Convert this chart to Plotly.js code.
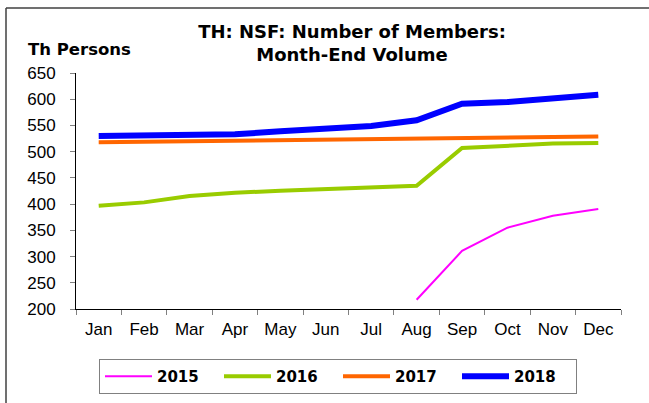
<!DOCTYPE html>
<html><head><meta charset="utf-8">
<script src="https://cdn.plot.ly/plotly-3.0.1.min.js"></script>
<style>html,body{margin:0;padding:0;background:#fff}</style>
</head><body><div id="chart" style="width:649px;height:403px"></div>
<script>
const months = ['Jan','Feb','Mar','Apr','May','Jun','Jul','Aug','Sep','Oct','Nov','Dec'];
const yearNames = ['2015','2016','2017','2018'];
const v2015 = [null,null,null,null,null,null,null,217.7,310.8,355.0,377.9,390.6];
const v2016 = [396.9,403.3,415.3,421.6,425.4,428.6,431.9,434.9,507.0,512.0,515.5,516.6];
const v2017 = [518,519,520,521,522,523,524,525,526,527,528,529];
const v2018 = [529.9,531.2,533.7,533.0,538.8,544.0,548.9,559.8,591.5,594.5,602.0,608.6];
const yTicks = [200,250,300,350,400,450,500,550,600,650];

const series = [v2015, v2016, v2017, v2018];
const colors = ['#FF00FF','#99CC00','#FF6600','#0000FF'];
const widths = [2, 4, 4, 6];

const traces = series.map((v,i) => ({
  x: months, y: v, name: yearNames[i], type: 'scatter', mode: 'lines',
  line: {color: colors[i], width: widths[i]}, connectgaps: false
}));

// plot area in px: left 76, top 73, width 545, height 236
const L = 76, T = 73, W = 545, H = 236;
const px = x => (x - L) / W;
const py = y => (T + H - y) / H;

const layout = {
  width: 649, height: 403,
  margin: {l: L, r: 649 - L - W, t: T, b: 403 - T - H, autoexpand: false},
  paper_bgcolor: '#ffffff', plot_bgcolor: '#ffffff',
  font: {family: 'Liberation Sans, Arial, sans-serif', size: 16, color: '#000'},
  showlegend: true,
  title: {
    text: 'TH: NSF: Number of Members:<br>Month-End Volume',
    font: {family: 'DejaVu Sans, sans-serif', size: 18, color: '#000', weight: 'bold'},
    x: px(352), xanchor: 'center', xref: 'paper',
    y: 1 - 38/403, yanchor: 'top', yref: 'container'
  },
  xaxis: {
    type: 'category', categoryorder: 'array', categoryarray: months,
    range: [-0.5, 11.5], showgrid: false, zeroline: false,
    showline: true, linecolor: '#000', linewidth: 1,
    ticks: 'outside', tickson: 'boundaries', ticklen: 5, tickcolor: '#808080', tickwidth: 1,
    tickfont: {family: 'Liberation Sans, Arial, sans-serif', size: 17, color: '#000'}, ticklabelstandoff: 5, fixedrange: true
  },
  yaxis: {
    range: [200, 650], tickvals: yTicks, ticktext: yTicks.map(String),
    showgrid: false, zeroline: false,
    showline: true, linecolor: '#000', linewidth: 1,
    ticks: 'outside', ticklen: 5, tickcolor: '#808080', tickwidth: 1,
    tickfont: {family: 'Liberation Sans, Arial, sans-serif', size: 17, color: '#000'}, ticklabelstandoff: 11, fixedrange: true
  },
  legend: {
    orientation: 'h', x: px(338), xanchor: 'center', y: py(359), yanchor: 'top',
    bordercolor: '#808080', borderwidth: 1, bgcolor: '#fff',
    font: {family: 'DejaVu Sans, sans-serif', size: 15, color: '#000', weight: 'bold'},
    itemwidth: 47, entrywidth: 57, entrywidthmode: 'pixels', traceorder: 'normal'
  },
  annotations: [{
    text: '<b>Th Persons</b>', xref: 'paper', yref: 'paper',
    x: px(26), xanchor: 'left', y: py(49), yanchor: 'middle', showarrow: false,
    font: {family: 'DejaVu Sans, sans-serif', size: 16.5, color: '#000'}
  }],
  shapes: [
    {type: 'line', xref: 'paper', yref: 'paper', x0: px(6), x1: px(649), y0: py(8), y1: py(8), line: {color: '#404040', width: 1.5}},
    {type: 'line', xref: 'paper', yref: 'paper', x0: px(6), x1: px(6), y0: py(8), y1: py(403), line: {color: '#404040', width: 1.5}}
  ]
};

Plotly.newPlot('chart', traces, layout, {staticPlot: true, displayModeBar: false});
</script></body></html>
